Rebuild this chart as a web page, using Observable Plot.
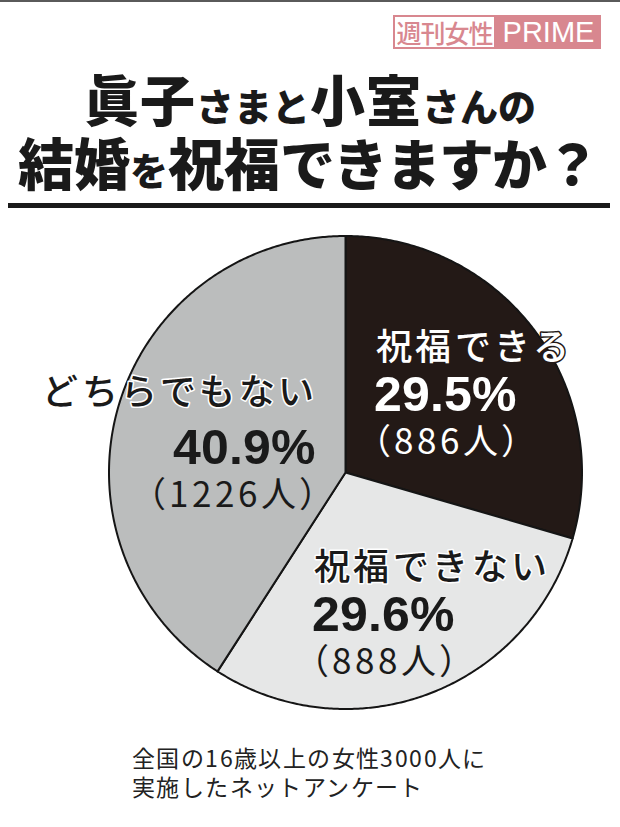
<!DOCTYPE html>
<html>
<head>
<meta charset="utf-8">
<script src="https://cdn.jsdelivr.net/npm/d3@7"></script>
<script src="https://cdn.jsdelivr.net/npm/@observablehq/plot@0.6"></script>
<style>
  @font-face {
    font-family: "TitleJP";
    src: local("Noto Sans CJK JP Black"), local("NotoSansCJKjp-Black"), local("Noto Sans CJK JP Bold"), local("NotoSansCJKjp-Bold");
    font-weight: 900;
    ascent-override: 90%; descent-override: 10%; line-gap-override: 0%;
  }
  @font-face {
    font-family: "PctSans";
    src: local("Liberation Sans Bold"), local("LiberationSans-Bold");
    font-weight: 700;
    ascent-override: 78%; descent-override: 6%; line-gap-override: 0%;
  }
  @font-face {
    font-family: "LabelJP";
    src: local("Noto Sans CJK JP Medium"), local("NotoSansCJKjp-Medium"), local("Noto Sans CJK JP Regular"), local("NotoSansCJKjp-Regular");
    font-weight: 500;
    ascent-override: 88%; descent-override: 12%; line-gap-override: 0%;
  }
  @font-face {
    font-family: "CountJP";
    src: local("Noto Sans CJK JP Regular"), local("NotoSansCJKjp-Regular"), local("Noto Sans CJK JP");
    font-weight: 400;
    ascent-override: 86%; descent-override: 12%; line-gap-override: 0%;
  }
  html, body { margin: 0; padding: 0; background: #fff; }
  #page { position: relative; width: 620px; height: 827px; overflow: hidden; background: #fff; font-family: "Noto Sans CJK JP", sans-serif; color: #1a1a1a; }
  #scan { position: absolute; left: 0; top: 0; width: 620px; height: 2px; background: #5a5a5a; }
  #logo { position: absolute; left: 393px; top: 15px; height: 34px; display: flex; }
  #logo .jp { box-sizing: border-box; width: 103px; height: 34px; border: 2px solid #d8878f; color: #d8878f; font-size: 25px; line-height: 30px; text-align: center; font-weight: 500; letter-spacing: -1px; background: #fff; }
  #logo .en { width: 105px; height: 34px; background: #d8878f; color: #fff; font-family: "Liberation Sans", sans-serif; font-size: 29px; line-height: 34px; text-align: center; }
  .tline { position: absolute; left: 0; width: 620px; text-align: center; font-family: "TitleJP", "Noto Sans CJK JP", sans-serif; font-weight: 900; white-space: nowrap; color: #1a1a1a; }
  .tline span { display: inline-block; line-height: 1em; vertical-align: baseline; }
  .big { font-size: 55px; }
  .sm { font-size: 38px; }
  #t1 { top: 72px; height: 60px; line-height: 60px; }
  #t1 .big { letter-spacing: 1px; }
  #t2 { top: 135px; height: 60px; line-height: 60px; left: -2px; }
  #t2 .big { font-size: 56px; }
  #t2 .kana { font-size: 55px; letter-spacing: -2px; }
  #rule { position: absolute; left: 8px; top: 203px; width: 602px; height: 5px; background: #1a1a1a; }
  #chart { position: absolute; left: 0; top: 215px; }
  #caption { position: absolute; left: 132px; top: 744px; font-family: "CountJP", "Noto Sans CJK JP", sans-serif; font-size: 23px; line-height: 29px; letter-spacing: 1.4px; color: #222; font-weight: 400; }
  .name text { letter-spacing: 3.5px; }
  .count text { letter-spacing: 4px; font-feature-settings: "palt"; }
</style>
</head>
<body>
<div id="page">
  <div id="scan"></div>
  <div id="logo"><div class="jp">週刊女性</div><div class="en">PRIME</div></div>
  <div id="t1" class="tline"><span class="big">眞子</span><span class="sm">さまと</span><span class="big">小室</span><span class="sm">さんの</span></div>
  <div id="t2" class="tline"><span class="big">結婚</span><span class="sm">を</span><span class="big">祝福</span><span class="kana">できますか？</span></div>
  <div id="rule"></div>
  <div id="chart"></div>
  <div id="caption"></div>
</div>
<script>
// ---- data ----
const categories = ["祝福できる", "祝福できない", "どちらでもない"];
const percents = [29.5, 29.6, 40.9];
const counts = [886, 888, 1226];
const sliceColors = ["#231916", "#e6e7e7", "#bbbdbd"];
const captionLines = ["全国の16歳以上の女性3000人に", "実施したネットアンケート"];

document.getElementById("caption").innerHTML = captionLines.join("<br>");

// ---- pie geometry from data ----
const arcs = d3.pie().sort(null).value(d => d)(percents);
const pts = [];
arcs.forEach((a, i) => {
  const key = categories[i];
  pts.push({key, i, x: 0, y: 0});
  const n = Math.max(2, Math.ceil((a.endAngle - a.startAngle) / (Math.PI / 360)));
  for (let k = 0; k <= n; k++) {
    const t = a.startAngle + (a.endAngle - a.startAngle) * k / n;
    pts.push({key, i, x: Math.sin(t), y: Math.cos(t)});
  }
});

const cx = 345, cy = 257, r = 236.5;
const rows = categories.map((c, i) => ({name: c, pct: percents[i].toFixed(1) + "%", count: "（" + counts[i] + "人）"}));

function label(i, o) {
  const d = [rows[i]];
  const s = o.anchor === "start";
  const base = {x: () => 0, y: () => 0, textAnchor: o.anchor, lineAnchor: "middle"};
  return [
    Plot.text(d, {...base, text: "name", dx: o.dx + (s ? 0 : 4), dy: o.dy[0], fontSize: 36, fontWeight: 500,
      fontFamily: "LabelJP, 'Noto Sans CJK JP'", fill: o.fill, stroke: o.halo, strokeWidth: 3,
      paintOrder: "stroke", strokeLinejoin: "round", className: "name"}),
    Plot.text(d, {...base, text: "pct", dx: o.dx - (s ? 2 : -1), dy: o.dy[1], fontSize: 50, fontWeight: "bold",
      fontFamily: "PctSans, 'Liberation Sans'", fill: o.fill}),
    Plot.text(d, {...base, text: "count", dx: o.dx + (s ? -4 : 8), dy: o.dy[2], fontSize: 35, fontWeight: 400,
      fontFamily: "CountJP, 'Noto Sans CJK JP'", fill: o.fill, className: "count"})
  ];
}

const chart = Plot.plot({
  width: 620,
  height: 505,
  margin: 0,
  style: {background: "transparent", overflow: "visible"},
  x: {domain: [-1, 1], range: [cx - r, cx + r], axis: null},
  y: {domain: [-1, 1], range: [cy + r, cy - r], axis: null},
  color: {type: "identity"},
  marks: [
    Plot.line(pts, {x: "x", y: "y", z: "key", fill: d => sliceColors[d.i], stroke: "#151515", strokeWidth: 2, curve: "linear-closed"}),
    ...label(0, {anchor: "start", dx: 30, dy: [-124, -78, -30], fill: "#ffffff", halo: "#231916"}),
    ...label(2, {anchor: "end", dx: -32, dy: [-79, -25, 23], fill: "#1a1a1a", halo: "#ffffff"}),
    ...label(1, {anchor: "start", dx: -32, dy: [96, 142, 190], fill: "#1a1a1a", halo: "#ffffff"})
  ]
});
document.getElementById("chart").appendChild(chart);
</script>
</body>
</html>
